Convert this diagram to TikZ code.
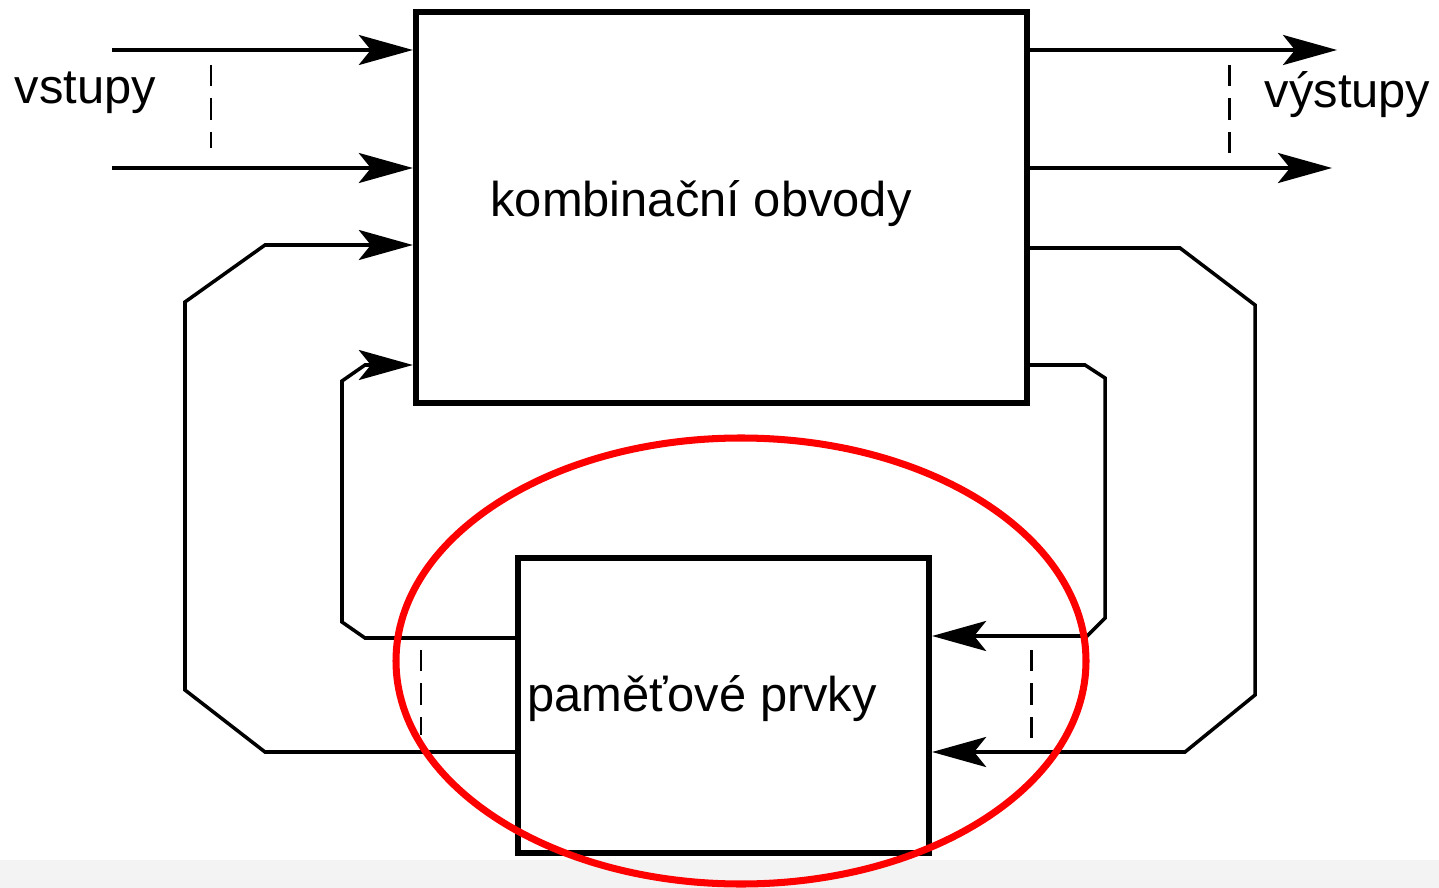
\documentclass[tikz,border=0pt]{standalone}
\usepackage{fontspec}
\setmainfont{Liberation Sans}
\usetikzlibrary{arrows.meta}
\definecolor{stripgray}{RGB}{243,243,243}
\definecolor{ringred}{RGB}{255,0,0}
\tikzset{
  x=0.01cm, y=-0.01cm,
  blk/.style={draw=black, line width=1.7pt, inner sep=0pt, fill=none},
  arr/.style={line width=1pt, -{Stealth[length=5.4mm,width=3.0mm,inset=1.2mm]}},
  dsh/.style={line width=0.85pt, dash pattern=on 6pt off 3.5pt},
  lbl/.style={font=\fontsize{13.9pt}{16pt}\selectfont, inner sep=0pt},
}
\begin{document}
\begin{tikzpicture}
\useasboundingbox (0,0) rectangle (1439,888);
\fill[stripgray] (0,860) rectangle (1439,888);
% boxes
\node[blk, minimum width=6.11cm, minimum height=3.91cm] (top) at (721.5,207.5) {};
\node[blk, minimum width=4.11cm, minimum height=2.95cm] (bot) at (723.5,705.5) {};
% labels
\node[lbl, anchor=base west] (vin) at (14,104) {vstupy};
\node[lbl, anchor=base west] (vout) at (1264,108) {výstupy};
\node[lbl, anchor=base] (komb) at (701,217) {kombinační obvody};
\node[lbl, anchor=base] (pam) at (702,711) {paměťové prvky};
% inputs
\coordinate (i1) at (112,50);
\coordinate (i2) at (112,168);
\draw[arr] (i1) -- (i1 -| top.west);
\draw[arr] (i2) -- (i2 -| top.west);
% outputs
\coordinate (o1) at (1337,50);
\coordinate (o2) at (1332,168);
\draw[arr] (o1 -| top.east) -- (o1);
\draw[arr] (o2 -| top.east) -- (o2);
% left outer feedback
\coordinate (lo) at (0,752);
\coordinate (lt) at (0,245);
\draw[arr] (bot.west |- lo) -- (265,752) -- (185,690) -- (185,302) -- (265,245) -- (top.west |- lt);
% left inner feedback
\coordinate (li) at (0,638);
\coordinate (lit) at (0,365);
\draw[arr] (bot.west |- li) -- (365,638) -- (342,622) -- (342,381) -- (365,365) -- (top.west |- lit);
% right outer feedback
\coordinate (ro) at (0,248);
\coordinate (rb) at (0,752);
\draw[arr] (top.east |- ro) -- (1180,248) -- (1255,305) -- (1255,695) -- (1185,752) -- (bot.east |- rb);
% right inner feedback
\coordinate (ri) at (0,365);
\coordinate (rib) at (0,636);
\draw[arr] (top.east |- ri) -- (1085,365) -- (1105,378) -- (1105,618) -- (1087,636) -- (bot.east |- rib);
% dashed bus marks
\draw[dsh] (211,65) -- (211,148);
\draw[dsh] (1229,65) -- (1229,155);
\draw[dsh] (421,650) -- (421,735);
\draw[dsh] (1031,650) -- (1031,742);
% red ellipse
\draw[ringred, line width=2pt] (741,661) ellipse [x radius=345, y radius=223];
\end{tikzpicture}
\end{document}
